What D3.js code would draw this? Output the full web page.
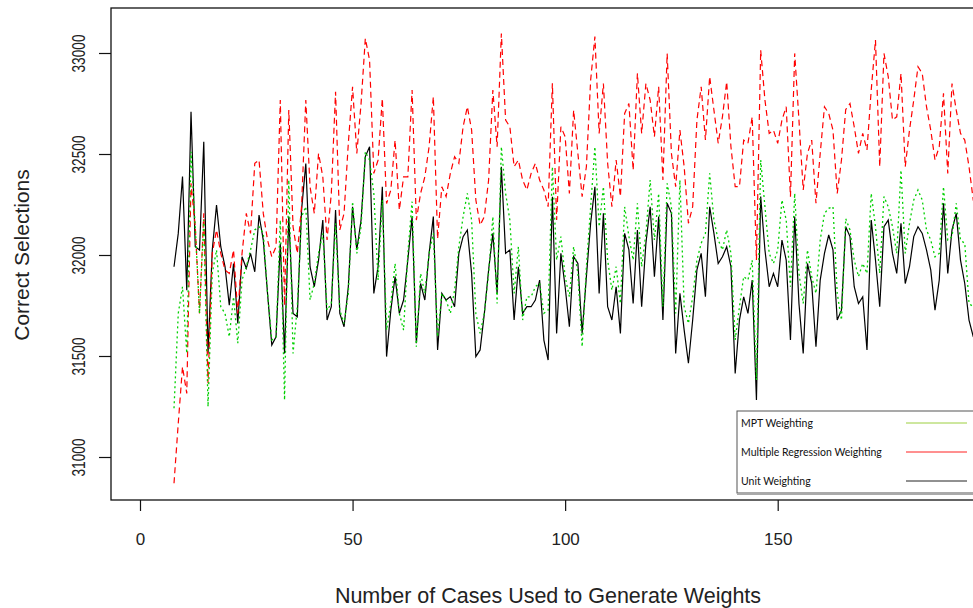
<!DOCTYPE html>
<html lang="en">
<head>
<meta charset="utf-8">
<script src="https://cdnjs.cloudflare.com/ajax/libs/d3/7.8.5/d3.min.js"></script>
<style>
  body { margin: 0; background: #fff; }
  text { font-family: "Liberation Sans", Arial, sans-serif; fill: #222; }
  .legend text { font-family: Lato, "Open Sans", sans-serif; fill: #111; }
</style>
</head>
<body>
<script>
// number of cases used to generate weights (x)
var firstCase = 8;

// Unit Weighting (black, solid)
var unitWeighting = [
  31942, 32107, 32388, 31826, 32709, 32041, 32025, 32561, 31513, 32025,
  32247, 32041, 31942, 31752, 31958, 31661, 31991, 31934, 32008, 31917,
  32198, 32074, 31810, 31554, 31595, 32057, 31513, 32190, 31711, 31694,
  32222, 32453, 31942, 31843, 31975, 32173, 31678, 31744, 32223, 31711,
  31645, 31843, 32239, 32025, 32173, 32487, 32536, 31810, 31942, 32338,
  31497, 31727, 31893, 31711, 31777, 31975, 32190, 31563, 31859, 31777,
  32008, 32190, 31530, 31810, 31777, 31794, 31744, 32008, 32091, 32124,
  31909, 31497, 31530, 31711, 31926, 32107, 31810, 32437, 32008, 32025,
  31678, 31942, 31711, 31744, 31744, 31777, 31876, 31579, 31480, 32288,
  31612, 32008, 31843, 31645, 31992, 31958, 31612, 31893, 32157, 32338,
  31810, 32206, 31744, 31678, 31843, 31612, 32107, 32025, 31760, 32124,
  31744, 32058, 32239, 31893, 32190, 31678, 32256, 32206, 31513, 31810,
  31628, 31464, 31678, 31926, 32008, 31793, 32239, 32107, 31958, 31991,
  32041, 31942, 31414, 31678, 31793, 31711, 31876, 31282, 32289, 32025,
  31843, 31909, 31843, 32074, 31975, 31579, 32190, 31760, 31513, 31958,
  31859, 31546, 31876, 32008, 32099, 32025, 31678, 31727, 32140, 32091,
  31843, 31760, 31793, 31530, 32173, 31975, 31744, 32140, 32173, 32008,
  31909, 32157, 31859, 31942, 32091, 32140, 32107, 32025, 31926, 31727,
  31876, 32256, 31909, 32124, 32206, 31975, 31859, 31678, 31596, 31579
];

// Multiple Regression Weighting (red, dashed)
var regressionWeighting = [
  30870, 31167, 31447, 31315, 32355, 32140, 31711, 32206, 31365, 32008,
  32124, 32008, 31925, 31909, 32025, 31711, 32008, 32206, 32107, 32454,
  32470, 32206, 32074, 31991, 32041, 32767, 31750, 32718, 32140, 32008,
  32239, 32767, 32338, 32206, 32503, 32387, 32074, 32305, 32808, 32124,
  32206, 32553, 32833, 32503, 32750, 33072, 32965, 32404, 32470, 32775,
  32255, 32322, 32569, 32222, 32387, 32387, 32817, 32173, 32305, 32387,
  32536, 32784, 32080, 32338, 32289, 32404, 32487, 32454, 32635, 32734,
  32619, 32272, 32148, 32190, 32371, 32817, 32536, 33097, 32668, 32635,
  32437, 32470, 32371, 32322, 32404, 32454, 32371, 32322, 32239, 32850,
  32173, 32635, 32586, 32305, 32717, 32503, 32289, 32437, 32866, 33081,
  32602, 32849, 32454, 32239, 32470, 32289, 32701, 32750, 32420, 32899,
  32602, 32849, 32767, 32586, 32833, 32371, 32998, 32503, 32338, 32618,
  32437, 32157, 32239, 32668, 32833, 32569, 32883, 32717, 32553, 32684,
  32858, 32536, 32338, 32338, 32569, 32553, 32684, 31975, 33014, 32767,
  32602, 32618, 32553, 32668, 32734, 32289, 32998, 32668, 32322, 32503,
  32569, 32256, 32503, 32734, 32701, 32618, 32305, 32470, 32720, 32750,
  32635, 32503, 32602, 32520, 32817, 33064, 32437, 32998, 32883, 32668,
  32684, 32899, 32437, 32618, 32767, 32932, 32899, 32734, 32618, 32470,
  32536, 32800, 32404, 32849, 32717, 32602, 32569, 32437, 32272, 32206
];

// MPT Weighting (green, dotted)
var mptWeighting = [
  31241, 31711, 31843, 31513, 32511, 32140, 31711, 32173, 31249, 31909,
  32025, 31744, 31711, 31595, 31793, 31563, 31876, 31942, 32025, 32124,
  32140, 32107, 31810, 31579, 31595, 32173, 31282, 32371, 31513, 31744,
  32190, 32239, 31777, 31860, 32008, 32107, 31727, 31760, 32157, 31727,
  31661, 31810, 32264, 32008, 32140, 32511, 32470, 32305, 31876, 32272,
  31628, 31760, 31958, 31711, 31628, 32008, 32264, 31546, 31909, 31810,
  32008, 32107, 31595, 31810, 31777, 31711, 31826, 32041, 32190, 32305,
  32173, 31711, 31612, 31711, 31909, 32190, 31760, 32536, 32305, 32173,
  31810, 32041, 31678, 31793, 31793, 31843, 31860, 31711, 31727, 32437,
  31975, 32091, 31893, 31793, 32041, 31909, 31546, 31942, 32239, 32536,
  32140, 32338, 31975, 31826, 31942, 31760, 32239, 32091, 31975, 32256,
  31942, 32107, 32371, 32074, 32305, 31744, 32355, 32239, 31711, 32371,
  31744, 31661, 31793, 31975, 32058, 32107, 32404, 32173, 32074, 32025,
  32124, 32008, 31579, 31744, 31893, 31876, 31975, 31381, 32470, 32239,
  32008, 31958, 32025, 32272, 32173, 31843, 32305, 31909, 31760, 32025,
  31893, 31810, 32074, 32206, 32231, 32239, 31810, 31678, 32180, 32124,
  31975, 31893, 31958, 31909, 32305, 32140, 31909, 32289, 32239, 32140,
  32008, 32420, 32008, 32157, 32272, 32322, 32272, 32124, 32074, 31991,
  32008, 32338, 32074, 32091, 32256, 32074, 32058, 31760, 31744, 31777
];

var xTicks = [0, 50, 100, 150];
var yTicks = [31000, 31500, 32000, 32500, 33000];
var legendLabels = ["MPT Weighting", "Multiple Regression Weighting", "Unit Weighting"];
var legendColors = ["#9ccf3f", "#ff2020", "#222222"];

var width = 973, height = 608;
var plotLeft = 111, plotTop = 8, plotBottom = 500, plotRight = 1030;

var svg = d3.select("body").append("svg")
  .attr("width", width)
  .attr("height", height);

svg.append("rect").attr("width", width).attr("height", height).attr("fill", "#fff");

var x = d3.scaleLinear().domain([0, 150]).range([140, 777.7]);
var y = d3.scaleLinear().domain([31000, 33000]).range([457, 53]);

function toPoints(arr) {
  return arr.map(function (v, i) { return { c: firstCase + i, v: v }; });
}

var line = d3.line()
  .x(function (d) { return x(d.c); })
  .y(function (d) { return y(d.v); });

// box
svg.append("rect")
  .attr("x", plotLeft).attr("y", plotTop)
  .attr("width", plotRight - plotLeft).attr("height", plotBottom - plotTop)
  .attr("fill", "none").attr("stroke", "#111").attr("stroke-width", 1.3);

// series
svg.append("path").datum(toPoints(unitWeighting))
  .attr("d", line).attr("fill", "none")
  .attr("stroke", "#000").attr("stroke-width", 1.2);

svg.append("path").datum(toPoints(regressionWeighting))
  .attr("d", line).attr("fill", "none")
  .attr("stroke", "#ff0000").attr("stroke-width", 1.2)
  .attr("stroke-dasharray", "6,4");

svg.append("path").datum(toPoints(mptWeighting))
  .attr("d", line).attr("fill", "none")
  .attr("stroke", "#00d000").attr("stroke-width", 1.3)
  .attr("stroke-dasharray", "2,3");

// x axis
var xAxis = d3.axisBottom(x).tickValues(xTicks).tickSize(11).tickPadding(22)
  .tickFormat(d3.format("d"));
var gx = svg.append("g").attr("transform", "translate(0," + plotBottom + ")").call(xAxis);
gx.select(".domain").remove();
gx.selectAll(".tick line").attr("stroke", "#111").attr("stroke-width", 1.2);
gx.selectAll(".tick text").attr("font-size", 17).attr("fill", "#222")
  .attr("font-family", "Liberation Sans, Arial, sans-serif");

// y axis
var yAxis = d3.axisLeft(y).tickValues(yTicks).tickSize(12)
  .tickFormat(d3.format("d"));
var gy = svg.append("g").attr("transform", "translate(" + plotLeft + ",0)").call(yAxis);
gy.select(".domain").remove();
gy.selectAll(".tick line").attr("stroke", "#111").attr("stroke-width", 1.2);
gy.selectAll(".tick text")
  .attr("font-size", 18).attr("fill", "#222")
  .attr("font-family", "Liberation Sans, Arial, sans-serif")
  .attr("x", null).attr("dy", null)
  .attr("text-anchor", "middle")
  .attr("textLength", 38).attr("lengthAdjust", "spacingAndGlyphs")
  .attr("transform", "translate(-26,0) rotate(-90)");

// axis titles
svg.append("text")
  .attr("x", 548).attr("y", 603)
  .attr("text-anchor", "middle")
  .attr("font-size", 21.5)
  .text("Number of Cases Used to Generate Weights");

svg.append("text")
  .attr("transform", "translate(29,255) rotate(-90)")
  .attr("text-anchor", "middle")
  .attr("font-size", 21)
  .text("Correct Selections");

// legend
var lg = svg.append("g").attr("class", "legend");
lg.append("rect")
  .attr("x", 737).attr("y", 411).attr("width", 260).attr("height", 82)
  .attr("fill", "#fff").attr("stroke", "#555").attr("stroke-width", 1);
lg.append("line").attr("x1", 737).attr("x2", 973).attr("y1", 494.5).attr("y2", 494.5)
  .attr("stroke", "#aaa");
legendLabels.forEach(function (lab, i) {
  var ly = 423 + i * 29;
  lg.append("text").attr("x", 741).attr("y", ly + 4)
    .attr("font-size", 10.5).text(lab);
  lg.append("line").attr("x1", 906).attr("x2", 967)
    .attr("y1", ly).attr("y2", ly)
    .attr("stroke", legendColors[i]).attr("stroke-width", 1);
});
</script>
</body>
</html>
